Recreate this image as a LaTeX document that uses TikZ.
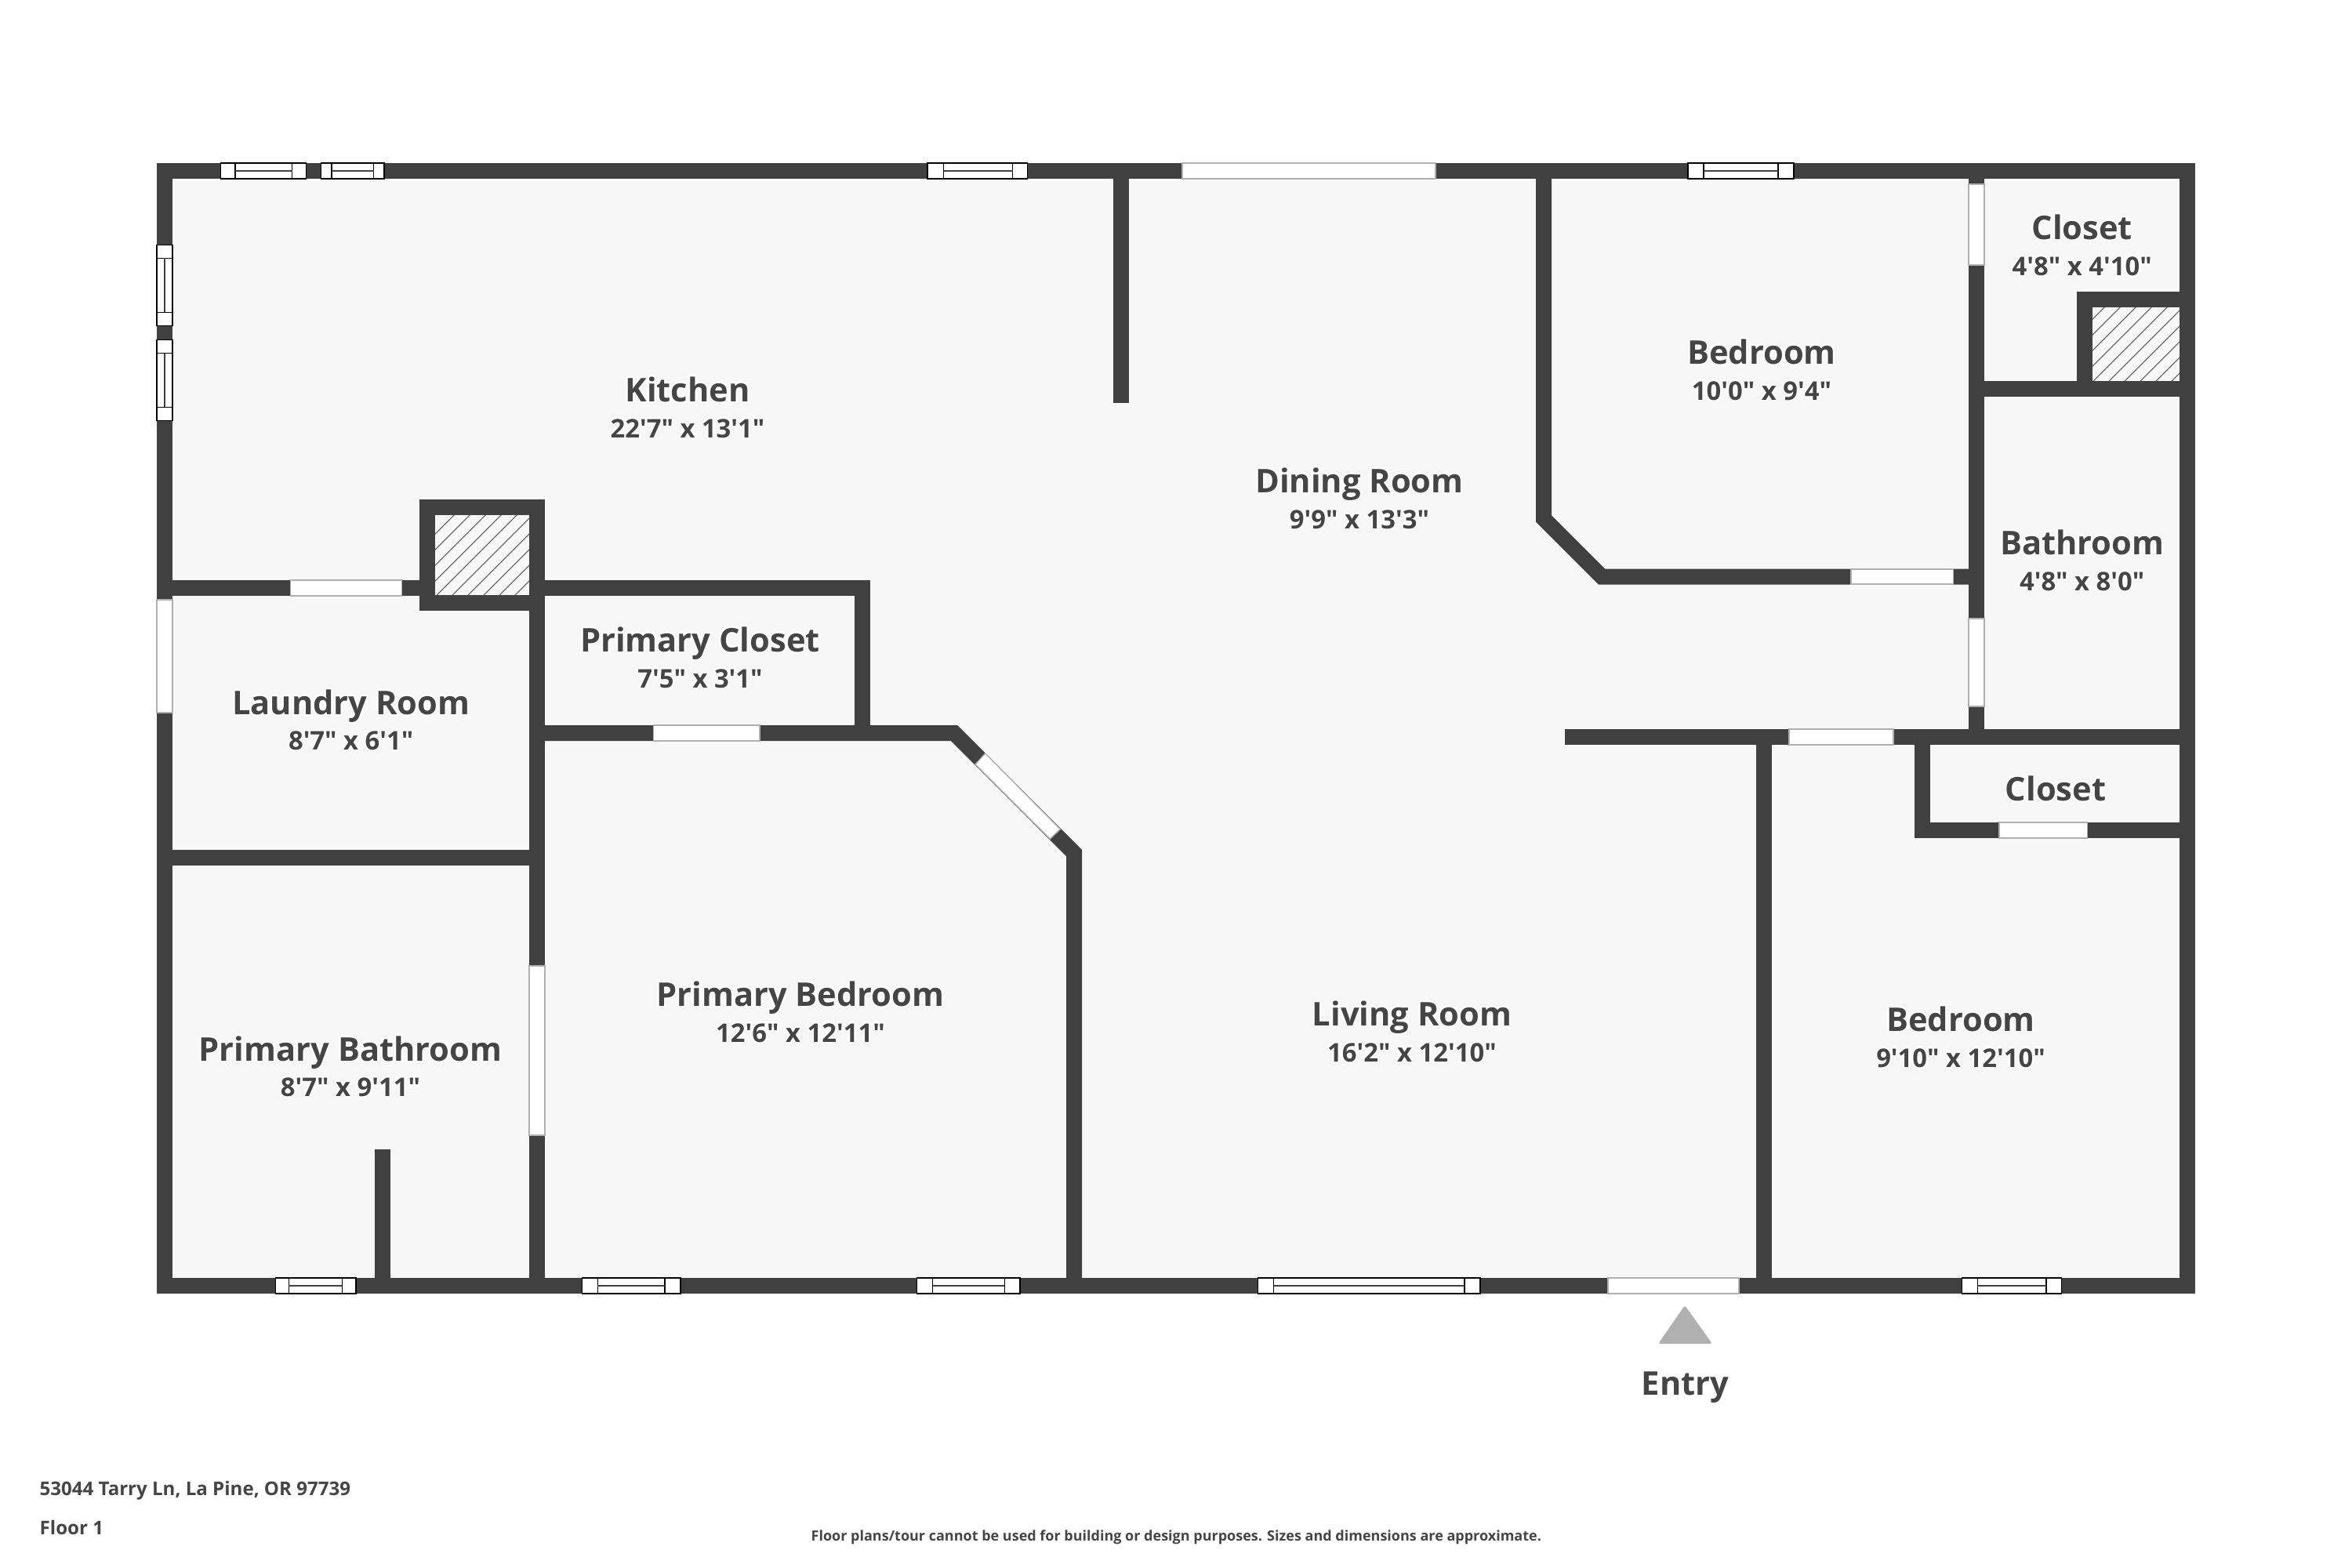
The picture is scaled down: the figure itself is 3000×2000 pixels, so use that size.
\documentclass[tikz,border=0pt]{standalone}
\usepackage{fontspec}
\usepackage{contour}
\usepackage{xcolor}
\newfontfamily\planfont{Open Sans}
\contourlength{0.5pt}
\definecolor{wallgray}{HTML}{404040}
\definecolor{floorgray}{HTML}{F7F7F7}
\definecolor{textgray}{HTML}{454545}
\definecolor{edgegray}{HTML}{B0B0B0}
\tikzset{
    wall/.style={draw=wallgray, line width=0.2cm, line join=miter},
    gap/.style={fill=white, draw=edgegray, line width=0.4pt},
    frame/.style={fill=white, draw=black, line width=0.4pt},
    mullion/.style={draw=wallgray, line width=0.4pt},
    hatchline/.style={draw=wallgray!85, line width=0.3pt},
    roomname/.style={anchor=base, inner sep=0pt, xshift=0.01cm, text=textgray, font=\planfont\bfseries\fontsize{11.85}{14}\selectfont},
    roomdim/.style={anchor=base, inner sep=0pt, xshift=0.01cm, text=textgray, font=\planfont\bfseries\fontsize{9.33}{11}\selectfont},
    footnote/.style={anchor=base west, inner sep=0pt, text=textgray, font=\planfont\bfseries\fontsize{6.85}{8}\selectfont}
}

\begin{document}
\begin{tikzpicture}[x=0.01cm, y=-0.01cm]
    \useasboundingbox (0, 0) rectangle (3000, 2000);
    \fill[floorgray] (210, 218) rectangle (2790, 1640);

    % hatched shafts
    \begin{scope}
        \clip (555, 657) rectangle (675, 759);
        \foreach \s in {477, 497, ..., 677}
            \draw[hatchline] (\s, 759) -- ++(200, -200);
    \end{scope}
    \begin{scope}
        \clip (2669, 392) rectangle (2780, 486);
        \foreach \s in {2590, 2610, ..., 2790}
            \draw[hatchline] (\s, 486) -- ++(200, -200);
    \end{scope}

    % walls
    \draw[wall] (210, 218) rectangle (2790, 1640);
    \draw[wall] (210, 750) -- (545, 750);
    \draw[wall] (545, 647) rectangle (685, 769);
    \draw[wall] (685, 769) -- (685, 1640);
    \draw[wall] (685, 750) -- (1100, 750) -- (1100, 935);
    \draw[wall] (685, 935) -- (1217, 935) -- (1370, 1088) -- (1370, 1640);
    \draw[wall] (210, 1094) -- (685, 1094);
    \draw[wall] (488, 1466) -- (488, 1640);
    \draw[wall] (1430, 218) -- (1430, 514);
    \draw[wall] (1969, 218) -- (1969, 661.5) -- (2043, 735.5) -- (2521, 735.5);
    \draw[wall] (2521, 218) -- (2521, 940);
    \draw[wall] (2521, 496) -- (2790, 496);
    \draw[wall] (2659, 496) -- (2659, 382) -- (2790, 382);
    \draw[wall] (1996, 940) -- (2790, 940);
    \draw[wall] (2249.5, 940) -- (2249.5, 1640);
    \draw[wall] (2451.5, 940) -- (2451.5, 1059) -- (2790, 1059);

    % door gaps
    \foreach \a/\b/\c/\d in {370.7/740/512.3/760, 833.6/925/968.8/945, 1508/208/1831/228,
            2361/726/2491.3/745, 2281.8/930/2415/950, 2550/1049/2662.4/1069, 2051/1630/2217.9/1650,
            200/765/220/909, 675/1232/695/1448, 2511/235/2531/338, 2511/789/2531/901}
        \draw[gap] (\a, \b) rectangle (\c, \d);
    \draw[gap] (1256.7, 961) -- (1352.3, 1057.7) -- (1339.3, 1070) -- (1244, 975) -- cycle;

    % windows along the top and bottom walls
    \foreach \a/\b/\c/\d/\t in {281.4/299.8/372.5/390.5/208, 409.6/423/476.6/490/208,
            1182.9/1203.6/1291.6/1310.7/208, 2153/2173/2268/2288/208,
            351.5/368.3/436.4/454/1630, 742.5/762.4/848/868/1630, 1169.6/1189.5/1281.3/1301/1630,
            1604.6/1624.5/1867.9/1887.8/1630, 2502.5/2522.3/2610/2629.4/1630} {
        \draw[frame] (\a, \t) rectangle (\d, \t+20);
        \draw[frame] (\b, \t) rectangle (\c, \t+20);
        \draw[mullion] (\b, \t+10) -- (\c, \t+10);
    }
    % windows along the left wall
    \foreach \a/\b/\c/\d in {312.7/329.3/398.3/415.7, 433.3/450.7/519.3/536.7} {
        \draw[frame] (200, \a) rectangle (220, \d);
        \draw[frame] (200, \b) rectangle (220, \c);
        \draw[mullion] (210, \b) -- (210, \c);
    }

    % room labels
    \node[roomname] (kitchen) at (876, 512) {\contour{white}{Kitchen}};
    \node[roomdim] (kitchendim) at (876, 558) {\contour{white}{22'7" x 13'1"}};
    \node[roomname] (dining) at (1733, 628) {\contour{white}{Dining Room}};
    \node[roomdim] (diningdim) at (1733, 674) {\contour{white}{9'9" x 13'3"}};
    \node[roomname] (bedroomone) at (2246, 464) {\contour{white}{Bedroom}};
    \node[roomdim] (bedroomonedim) at (2246, 510) {\contour{white}{10'0" x 9'4"}};
    \node[roomname] (closetone) at (2654.7, 305) {\contour{white}{Closet}};
    \node[roomdim] (closetonedim) at (2654.7, 351.7) {\contour{white}{4'8" x 4'10"}};
    \node[roomname] (bathroom) at (2654.7, 707) {\contour{white}{Bathroom}};
    \node[roomdim] (bathroomdim) at (2654.7, 753) {\contour{white}{4'8" x 8'0"}};
    \node[roomname] (primarycloset) at (892, 831) {\contour{white}{Primary Closet}};
    \node[roomdim] (primaryclosetdim) at (892, 877) {\contour{white}{7'5" x 3'1"}};
    \node[roomname] (laundry) at (446.7, 911.7) {\contour{white}{Laundry Room}};
    \node[roomdim] (laundrydim) at (446.7, 956.7) {\contour{white}{8'7" x 6'1"}};
    \node[roomname] (closettwo) at (2621, 1021.5) {\contour{white}{Closet}};
    \node[roomname] (primarybedroom) at (1020, 1283) {\contour{white}{Primary Bedroom}};
    \node[roomdim] (primarybedroomdim) at (1020, 1329) {\contour{white}{12'6" x 12'11"}};
    \node[roomname] (living) at (1800, 1308) {\contour{white}{Living Room}};
    \node[roomdim] (livingdim) at (1800, 1354) {\contour{white}{16'2" x 12'10"}};
    \node[roomname] (bedroomtwo) at (2500, 1315) {\contour{white}{Bedroom}};
    \node[roomdim] (bedroomtwodim) at (2500, 1361) {\contour{white}{9'10" x 12'10"}};
    \node[roomname] (primarybath) at (446, 1353) {\contour{white}{Primary Bathroom}};
    \node[roomdim] (primarybathdim) at (446, 1398.5) {\contour{white}{8'7" x 9'11"}};

    % entry marker
    \fill[edgegray, rounded corners=0.03cm] (2149, 1665) -- (2184, 1714) -- (2115, 1714) -- cycle;
    \node[roomname] (entry) at (2148.5, 1779.3) {Entry};

    % footer
    \node[footnote] (address) at (50, 1907.5) {53044 Tarry Ln, La Pine, OR 97739};
    \node[footnote] (floor) at (50, 1957.5) {Floor 1};
    \node[footnote, font=\planfont\bfseries\fontsize{5.12}{6}\selectfont] (disclaimer) at (1034, 1965) {Floor plans/tour cannot be used for building or design purposes. Sizes and dimensions are approximate.};
\end{tikzpicture}
\end{document}
